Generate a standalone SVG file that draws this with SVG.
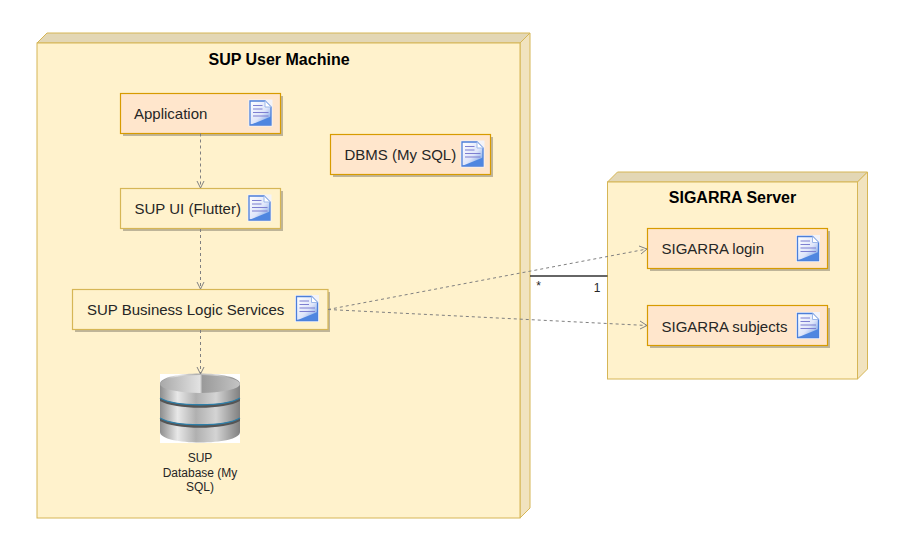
<svg xmlns="http://www.w3.org/2000/svg" width="904" height="558" viewBox="0 0 904 558">
<style>
text{font-family:"Liberation Sans",Arial,sans-serif;fill:#262626}
.t{font-size:15px}
.title{font-size:16px;font-weight:bold;fill:#000;text-anchor:middle}
.small{font-size:12px;text-anchor:middle}
.front{fill:#fff2cc;stroke:#d6b656}
.top{fill:#e3d7b5;stroke:#d6b656}
.side{fill:#f1e3bf;stroke:#d6b656}
.shadow{fill:#000;opacity:.25}
.orange{fill:#ffe6cc;stroke:#d79b00;stroke-width:1.2}
.yellow{fill:#fff2cc;stroke:#d6b656;stroke-width:1.2}
.dep{fill:none;stroke:#808080;stroke-dasharray:3 3}
.head{fill:none;stroke:#808080}
</style>
<defs>
<linearGradient id="pg" x1="0" y1="0" x2="1" y2="1"><stop offset="0" stop-color="#fff"/><stop offset=".55" stop-color="#dfe6fa"/><stop offset="1" stop-color="#5c8fe0"/></linearGradient>
<linearGradient id="mt" x1="0" y1="0" x2="1" y2="0"><stop offset="0" stop-color="#8d8d8d"/><stop offset=".22" stop-color="#e8e8e8"/><stop offset=".45" stop-color="#b0b0b0"/><stop offset=".7" stop-color="#d4d4d4"/><stop offset="1" stop-color="#808080"/></linearGradient>
<linearGradient id="tp" x1="0" y1="0" x2="1" y2="0"><stop offset="0" stop-color="#a8a8a8"/><stop offset=".5" stop-color="#e2e2e2"/><stop offset=".53" stop-color="#9a9a9a"/><stop offset="1" stop-color="#c4c4c4"/></linearGradient>
<symbol id="doc" width="24" height="27" viewBox="0 0 24 27" overflow="visible">
<rect x="0" y="0" width="24" height="27" fill="#f3f3f8"/>
<path d="M1.500 1.500H16.500L22.500 7.500V25.500H1.500Z" fill="url(#pg)" stroke="#4d7fd8" stroke-width="1.300"/>
<path d="M1.500 25.500L22.500 17V25.500Z" fill="#4f86e0"/>
<path d="M16.500 1.500V7.500H22.500" fill="#fff" stroke="#9db8ea"/>
<path d="M4.500 6H14M4.500 9.500H14M4.500 13H20M4.500 16.500H20" stroke="#7d7fd0" stroke-width="1.200" fill="none"/>
</symbol>
</defs>

<g id="sup-user-machine">
<path class="top" d="M37 43L47 33H530L520 43Z"/>
<path class="side" d="M520 43L530 33V508L520 518Z"/>
<rect class="front" x="37" y="43" width="483" height="475"/>
<text class="title" x="279" y="65">SUP User Machine</text>
</g>
<g id="sigarra-server">
<path class="top" d="M607.500 182L617.500 172H867.500L857.500 182Z"/>
<path class="side" d="M857.500 182L867.500 172V369L857.500 379Z"/>
<rect class="front" x="607.500" y="182" width="250" height="197"/>
<text class="title" x="732.500" y="203">SIGARRA Server</text>
</g>

<g id="application">
<rect class="shadow" x="123" y="96" width="160" height="40"/>
<rect class="orange" x="120.500" y="93.500" width="160" height="40"/>
<text class="t" x="134" y="119">Application</text>
<use href="#doc" x="248.500" y="99.500"/>
</g>
<g id="sup-ui">
<rect class="shadow" x="123" y="191" width="160" height="40"/>
<rect class="yellow" x="120.500" y="188.500" width="160" height="40"/>
<text class="t" x="134.500" y="214">SUP UI (Flutter)</text>
<use href="#doc" x="247.500" y="194.500"/>
</g>
<g id="dbms">
<rect class="shadow" x="333" y="137" width="160" height="40"/>
<rect class="orange" x="330.500" y="134.500" width="160" height="40"/>
<text class="t" x="344.500" y="160">DBMS (My SQL)</text>
<use href="#doc" x="460.500" y="140.500"/>
</g>
<g id="business-logic">
<rect class="shadow" x="75" y="292" width="255" height="40"/>
<rect class="yellow" x="72.500" y="289.500" width="255.500" height="40"/>
<text class="t" x="87" y="315">SUP Business Logic Services</text>
<use href="#doc" x="295" y="295"/>
</g>
<g id="database">
<rect x="160" y="374" width="80" height="69" fill="#fff"/>
<path d="M160 384C160 370 240 370 240 384V432C240 446 160 446 160 432Z" fill="url(#mt)"/>
<ellipse cx="200" cy="384" rx="40" ry="9" fill="url(#tp)"/>
<path d="M160 398C175 407 225 407 240 398V401C225 410 175 410 160 401Z" fill="#555"/>
<path d="M160 398C175 407 225 407 240 398" fill="none" stroke="#2f7fa8" stroke-width="1.400"/>
<path d="M160 418C175 427 225 427 240 418V421C225 430 175 430 160 421Z" fill="#555"/>
<path d="M160 418C175 427 225 427 240 418" fill="none" stroke="#2f7fa8" stroke-width="1.400"/>
<text class="small" x="200" y="462">SUP</text>
<text class="small" x="200" y="476.500">Database (My</text>
<text class="small" x="200" y="491">SQL)</text>
</g>
<g id="sigarra-login">
<rect class="shadow" x="650" y="231" width="180" height="40"/>
<rect class="orange" x="647.500" y="228.500" width="180" height="40"/>
<text class="t" x="661.500" y="254">SIGARRA login</text>
<use href="#doc" x="796" y="235"/>
</g>
<g id="sigarra-subjects">
<rect class="shadow" x="650" y="308" width="180" height="40"/>
<rect class="orange" x="647.500" y="305.500" width="180" height="40"/>
<text class="t" x="661.500" y="332">SIGARRA subjects</text>
<use href="#doc" x="796" y="312"/>
</g>

<g id="connectors">
<path class="dep" d="M200.500 133.500V188"/>
<path class="head" d="M197 181L200.500 188L204 181"/>
<path class="dep" d="M200.500 229V289"/>
<path class="head" d="M197 282L200.500 289L204 282"/>
<path class="dep" d="M200.500 330V374"/>
<path class="head" d="M197 367L200.500 374L204 367"/>
<path class="dep" d="M328 309.500L647 249"/>
<path class="head" d="M639 246L647 249L641 254"/>
<path class="dep" d="M328 309.500L647 325.500"/>
<path class="head" d="M640 321L647 325.500L640 329"/>
<path d="M530 276H607.500" fill="none" stroke="#333" stroke-width="1.300"/>
<text class="small" x="538.500" y="290">*</text>
<text class="small" x="597" y="292">1</text>
</g>
</svg>
